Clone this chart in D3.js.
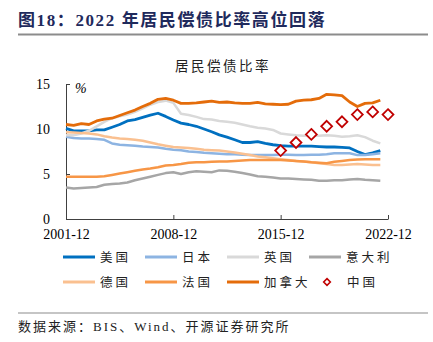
<!DOCTYPE html>
<html>
<head>
<meta charset="utf-8">
<script src="https://cdn.jsdelivr.net/npm/d3@7"></script>
<style>
  body { margin: 0; background: #fff; }
  svg { display: block; }
</style>
</head>
<body>
<div id="chart"></div>
<script>
// half-year periods of the ratio series
const periods = [
  "2001-12","2002-06","2002-12","2003-06","2003-12","2004-06","2004-12","2005-06","2005-12","2006-06",
  "2006-12","2007-06","2007-12","2008-06","2008-12","2009-06","2009-12","2010-06","2010-12","2011-06",
  "2011-12","2012-06","2012-12","2013-06","2013-12","2014-06","2014-12","2015-06","2015-12","2016-06",
  "2016-12","2017-06","2017-12","2018-06","2018-12","2019-06","2019-12","2020-06","2020-12","2021-06",
  "2021-12","2022-06"
];

const usa = [10.07,9.8,9.8,9.8,9.9,9.9,10.2,10.5,10.9,11.05,11.3,11.55,11.75,11.4,11.0,10.65,10.5,10.3,10.0,9.7,
  9.35,9.1,8.8,8.5,8.5,8.6,8.4,8.25,8.15,8.1,8.1,8.1,8.1,8.05,8.0,8.0,7.95,7.9,7.5,7.15,7.35,7.6];
const japan = [9.15,9.0,8.95,8.95,8.9,8.8,8.4,8.25,8.2,8.15,8.05,8.0,7.95,7.8,7.7,7.65,7.5,7.45,7.35,7.3,
  7.25,7.2,7.2,7.15,7.1,7.1,7.1,7.1,7.15,7.15,7.1,7.1,7.15,7.15,7.2,7.3,7.3,7.3,7.1,7.1,7.2,7.3];
const uk = [9.3,9.3,9.5,9.8,10.3,10.8,11.2,11.4,11.6,11.9,12.3,12.7,13.0,13.15,12.9,11.7,11.55,11.35,11.1,11.05,
  10.9,10.8,10.7,10.5,10.3,10.15,10.05,9.9,9.5,9.4,9.3,9.25,9.3,9.25,9.3,9.25,9.15,9.2,9.3,9.1,8.7,8.4];
const italy = [3.5,3.4,3.45,3.5,3.55,3.8,3.9,3.95,4.05,4.3,4.5,4.7,4.9,5.1,5.2,5.0,5.2,5.3,5.25,5.2,
  5.4,5.35,5.25,5.1,4.95,4.75,4.7,4.6,4.5,4.5,4.45,4.4,4.35,4.25,4.25,4.3,4.3,4.4,4.45,4.35,4.3,4.25];
const germany = [9.65,9.6,9.55,9.5,9.4,9.2,9.05,8.95,8.9,8.8,8.7,8.5,8.3,8.15,8.0,7.95,7.9,7.8,7.7,7.65,
  7.6,7.5,7.4,7.25,7.1,6.95,6.85,6.75,6.65,6.55,6.45,6.4,6.3,6.2,6.1,6.0,6.0,6.05,6.1,6.05,6.0,6.0];
const france = [4.7,4.7,4.7,4.7,4.7,4.75,4.9,5.05,5.2,5.35,5.5,5.6,5.75,5.95,6.0,6.1,6.25,6.3,6.3,6.35,
  6.4,6.4,6.45,6.5,6.55,6.55,6.55,6.55,6.55,6.5,6.45,6.4,6.3,6.25,6.2,6.35,6.45,6.55,6.6,6.65,6.65,6.65];
const canada = [10.5,10.4,10.6,10.5,10.9,11.1,11.2,11.5,11.8,12.1,12.5,12.85,13.3,13.4,13.2,12.85,12.85,12.9,13.0,13.1,
  12.95,13.0,12.9,12.85,12.85,12.95,12.8,12.75,12.7,12.75,13.1,13.2,13.25,13.4,13.85,13.8,13.7,13.0,12.5,12.85,12.9,13.2];

// China, yearly
const chinaPeriods = ["2015-12","2016-12","2017-12","2018-12","2019-12","2020-12","2021-12","2022-12"];
const china = [7.6,8.5,9.4,10.3,10.8,11.6,11.9,11.6];

const xTicks = ["2001-12","2008-12","2015-12","2022-12"];
const yTicks = [0,5,10,15];

const seriesNames = ["美国","日本","英国","意大利","德国","法国","加拿大"];
const seriesData = [usa, japan, uk, italy, germany, france, canada];
const seriesColors = ["#0070C0","#8DB4E2","#D9D9D9","#A6A6A6","#FAC090","#F79646","#E46C0A"];

const W = 433, H = 342;
const parse = d3.timeParse("%Y-%m");

const svg = d3.select("#chart").append("svg")
  .attr("width", W).attr("height", H);

const serif = "'Liberation Serif','Times New Roman',serif";
const cjk = "'Liberation Serif','Noto Sans CJK SC',serif";

// header
svg.append("text")
  .attr("x", 18).attr("y", 26)
  .style("font-family", cjk)
  .style("font-size", "17px")
  .style("font-weight", "bold")
  .style("letter-spacing", "1.6px")
  .style("fill", "#1F2A5C")
  .text("图18：2022 年居民偿债比率高位回落");
svg.append("line")
  .attr("x1", 18).attr("x2", 428).attr("y1", 34.5).attr("y2", 34.5)
  .style("stroke", "#8C8C8C").style("stroke-width", 2);

// chart title
svg.append("text")
  .attr("x", 223).attr("y", 71)
  .attr("text-anchor", "middle")
  .style("font-family", cjk)
  .style("font-size", "13.5px")
  .style("letter-spacing", "2.5px")
  .style("fill", "#222")
  .text("居民偿债比率");

const x = d3.scaleTime()
  .domain([parse("2001-12"), parse("2022-12")])
  .range([66, 388]);
const y = d3.scaleLinear().domain([0, 15]).range([219, 84]);

// axes
const gx = svg.append("g").attr("transform", "translate(0,219)")
  .call(d3.axisBottom(x)
    .tickValues(xTicks.map(parse))
    .tickFormat(d3.timeFormat("%Y-%m"))
    .tickSizeInner(-4).tickSizeOuter(0).tickPadding(10));
gx.select(".domain").style("stroke", "#404040");
gx.selectAll(".tick line").style("stroke", "#404040");
gx.selectAll("text").style("font-family", serif).style("font-size", "14px").style("fill", "#000");

const gy = svg.append("g").attr("transform", "translate(66,0)")
  .call(d3.axisLeft(y)
    .tickValues(yTicks)
    .tickSizeInner(-4).tickSizeOuter(0).tickPadding(16));
gy.select(".domain").style("stroke", "#404040");
gy.selectAll(".tick line").style("stroke", "#404040");
gy.selectAll("text").style("font-family", serif).style("font-size", "14px").style("fill", "#000");

svg.append("text")
  .attr("x", 75).attr("y", 93)
  .style("font-family", serif)
  .style("font-size", "14px")
  .style("font-style", "italic")
  .text("%");

// lines
const line = d3.line()
  .x((d, i) => x(parse(periods[i])))
  .y(d => y(d));

seriesData.forEach((s, k) => {
  svg.append("path")
    .datum(s)
    .attr("d", line)
    .style("fill", "none")
    .style("stroke", seriesColors[k])
    .style("stroke-width", k === 0 || k === 6 ? 2.8 : 2.5)
    .style("stroke-linejoin", "round");
});

// china diamonds
const diamond = d3.symbol().type(d3.symbolDiamond2).size(75);
svg.selectAll(".cn")
  .data(china)
  .enter().append("path")
  .attr("class", "cn")
  .attr("d", diamond)
  .attr("transform", (d, i) => `translate(${x(parse(chinaPeriods[i]))},${y(d)})`)
  .style("fill", "#fff")
  .style("stroke", "#C00000")
  .style("stroke-width", 1.8);

// legend
const legendItems = seriesNames.map((n, i) => ({name: n, color: seriesColors[i]}))
  .concat([{name: "中国", marker: true}]);
const lg = svg.append("g");
legendItems.forEach((it, i) => {
  const lx = 63 + (i % 4) * 82;
  const ly = 257 + Math.floor(i / 4) * 25;
  if (it.marker) {
    lg.append("path")
      .attr("d", d3.symbol().type(d3.symbolDiamond2).size(28))
      .attr("transform", `translate(${lx + 18},${ly})`)
      .style("fill", "#fff").style("stroke", "#C00000").style("stroke-width", 1.6);
  } else {
    lg.append("line")
      .attr("x1", lx).attr("x2", lx + 32).attr("y1", ly).attr("y2", ly)
      .style("stroke", it.color).style("stroke-width", 3);
  }
  lg.append("text")
    .attr("x", it.marker ? lx + 38 : lx + 37).attr("y", ly + 4.5)
    .style("font-family", cjk)
    .style("font-size", "12.5px")
    .style("letter-spacing", "3px")
    .style("fill", "#222")
    .text(it.name);
});

// source
svg.append("line")
  .attr("x1", 18).attr("x2", 428).attr("y1", 313).attr("y2", 313)
  .style("stroke", "#8C8C8C").style("stroke-width", 1.2);
svg.append("text")
  .attr("x", 18).attr("y", 331)
  .style("font-family", cjk)
  .style("font-size", "13px")
  .style("letter-spacing", "2px")
  .style("fill", "#222")
  .text("数据来源：BIS、Wind、开源证券研究所");
</script>
</body>
</html>
